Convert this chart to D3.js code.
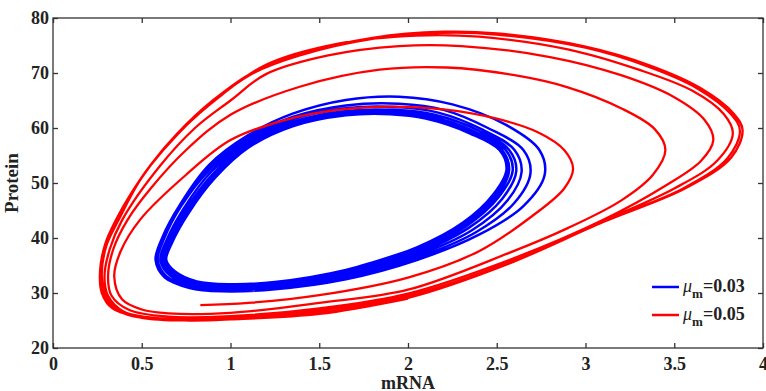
<!DOCTYPE html>
<meta charset="utf-8">
<script src="https://d3js.org/d3.v7.js"></script>
<style>
  body { margin: 0; background: #fff; }
  text { font-family: "Liberation Serif", "Times New Roman", serif; font-weight: bold; fill: #222; }
</style>
<div id="my_dataviz"></div>
<script>

// axis ticks
var xTicks = [0, 0.5, 1, 1.5, 2, 2.5, 3, 3.5, 4];
var yTicks = [20, 30, 40, 50, 60, 70, 80];

// legend entries
var seriesNames = ["0.03", "0.05"];
var seriesColors = ["#0000ff", "#ff0000"];

// mu_m = 0.03 trajectory, [mRNA, protein]
var blueTrajectory = [
  [0.95,30.4],[1.25,30.7],[1.65,32.5],[2.05,36.0],[2.4,40.6],[2.65,45.8],[2.77,51.5],[2.74,56],[2.55,60.6],[2.25,64.3],[1.95,65.7],[1.65,65.1],[1.35,62.6],[1.1,58.7],[0.88,53.3],[0.72,46.3],[0.62,40.2],[0.585,36],[0.635,32.8],[0.77,30.9],
  [0.95,30.3],[1.25,30.7],[1.65,32.7],[2.05,36.4],[2.38,41],[2.6,46.4],[2.69,51.8],[2.65,56],[2.45,60],[2.2,63.3],[1.95,64.4],[1.65,64.1],[1.35,62],[1.1,58.2],[0.88,52.9],[0.715,46],[0.615,40],[0.578,36],[0.63,32.8],[0.77,31],
  [0.96,30.5],[1.25,30.9],[1.65,33],[2.05,36.8],[2.36,41.4],[2.56,46.8],[2.64,52],[2.6,56],[2.42,59.7],[2.17,62.8],[1.93,63.8],[1.65,63.6],[1.35,61.6],[1.1,57.8],[0.885,52.5],[0.72,45.7],[0.625,39.8],[0.59,36],[0.64,33],[0.78,31.2],
  [0.97,30.7],[1.25,31.1],[1.65,33.3],[2.05,37.2],[2.34,41.8],[2.53,47.1],[2.61,52.2],[2.57,56],[2.4,59.5],[2.15,62.4],[1.92,63.3],[1.65,63.1],[1.35,61.1],[1.1,57.3],[0.89,52],[0.735,45.3],[0.64,39.6],[0.605,36],[0.655,33.3],[0.785,31.4],
  [0.98,30.9],[1.25,31.3],[1.65,33.6],[2.05,37.6],[2.33,42.2],[2.51,47.4],[2.59,52.3],[2.55,56],[2.38,59.3],[2.13,62.1],[1.91,63],[1.65,62.8],[1.35,60.8],[1.1,57],[0.9,51.6],[0.745,45],[0.65,39.4],[0.615,36],[0.665,33.5],[0.79,31.6],
  [0.99,31.1],[1.25,31.5],[1.65,33.8],[2.05,37.9],[2.32,42.5],[2.5,47.6],[2.57,52.4],[2.53,56],[2.37,59.2],[2.12,61.9],[1.9,62.8],[1.65,62.6],[1.35,60.6],[1.1,56.7],[0.905,51.3],[0.755,44.8],[0.66,39.3],[0.625,36],[0.675,33.7],[0.8,31.8],
  [1.0,31.3],[1.25,31.7],[1.65,34],[2.05,38.1],[2.31,42.7],[2.49,47.8],[2.56,52.4],[2.52,56],[2.36,59.1],[2.11,61.8],[1.9,62.6],[1.65,62.4],[1.35,60.4],[1.1,56.5],[0.91,51.1],[0.76,44.7],[0.665,39.2],[0.632,36],[0.682,33.8],[0.805,32],
  [1.0,31.5],[1.25,31.9],[1.65,34.2],[2.05,38.3],[2.31,42.8],[2.48,47.9],[2.555,52.5],[2.515,56],[2.35,59],[2.1,61.7],[1.9,62.5],[1.65,62.3],[1.35,60.3],[1.1,56.4],[0.915,51],[0.765,44.6],[0.67,39.1],[0.638,36],[0.688,33.9],[0.81,32.1],
  [1.0,31.6],[1.25,32.0],[1.65,34.2],[2.05,38.2]
];

// mu_m = 0.05 trajectory, [mRNA, protein]
var redTrajectory = [
  [0.83,27.8],[1.1,28.2],[1.5,29.6],[2.0,32.8],[2.4,37.6],[2.7,44],[2.88,49],[2.93,52.6],[2.88,56],[2.74,59.1],[2.5,61.7],[2.2,63.4],[1.9,63.9],[1.6,63.3],[1.3,61.4],[1.0,57.8],[0.75,51.5],[0.49,43.3],[0.38,37.5],[0.345,33],[0.39,28.8],
  [0.5,27],[0.65,26.3],[1.0,26.4],[1.5,28.2],[2.0,30.6],[2.57,37.3],[2.9,41.8],[3.2,46.8],[3.38,51.5],[3.45,56],[3.39,59.8],[3.2,63.6],[2.9,67.4],[2.6,69.6],[2.22,71],[1.84,70.6],[1.39,67.5],[1.0,62.4],[0.75,56],[0.55,49],[0.42,43.3],[0.34,38],[0.31,33],[0.33,29.5],[0.43,26.9],
  [0.65,25.7],[1.0,25.8],[1.5,27.2],[2.0,29.9],[2.57,36],[3.1,43.3],[3.45,49.5],[3.65,54],[3.72,57.8],[3.67,61.5],[3.5,65.6],[3.2,69.6],[2.8,72.9],[2.3,74.9],[1.95,74.9],[1.55,73.2],[1.2,69.8],[1.0,65],[0.8,60],[0.6,53],[0.39,43.3],[0.32,38],[0.29,33],[0.31,29.5],[0.4,26.6],
  [0.6,25.4],[1.0,25.5],[1.5,26.8],[2.0,29.5],[2.57,35.6],[3.1,43.1],[3.5,49],[3.74,54],[3.83,59],[3.78,62.5],[3.6,66.8],[3.3,70.6],[2.9,74.3],[2.4,76.6],[2.05,76.8],[1.6,75.3],[1.2,71.5],[0.95,66],[0.72,59.5],[0.5,51],[0.37,43.3],[0.3,38.5],[0.275,33],[0.3,29.5],[0.38,26.6],
  [0.6,25.2],[1.0,25.3],[1.5,26.4],[2.0,29.2],[2.55,35.2],[3.1,43],[3.55,49],[3.8,54.5],[3.87,59.5],[3.82,62.5],[3.63,67.2],[3.35,71.2],[3.0,74.6],[2.5,77],[2.2,77.3],[1.8,76.2],[1.39,73.2],[1.13,70],[0.9,64.8],[0.7,58.8],[0.55,53.2],[0.44,48],[0.36,43.3],[0.3,39],[0.27,34],[0.28,30],[0.34,27.3],[0.5,25.6],
  [0.77,25.1],[1.0,25.25],[1.5,26.3],[2.0,29.1],[2.55,35.1],[3.1,42.9],[3.56,49],[3.82,54.6],[3.885,59.6],[3.835,62.6],[3.645,67.3],[3.36,71.4],[3.0,74.8],[2.5,77.2],[2.2,77.5],[1.8,76.4],[1.39,73.4],[1.13,70.2],[0.9,65],[0.7,59],[0.55,53.3],[0.44,48.1],[0.355,43.3],[0.295,39],[0.265,34],[0.275,30],[0.335,27.2],[0.5,25.5],
  [0.77,25.0],[1.0,25.2],[1.5,26.2],[2.0,29.0]
];

// plot box in pixels
var margin = {top: 18, right: 3, bottom: 43, left: 53},
    width = 766 - margin.left - margin.right,
    height = 391 - margin.top - margin.bottom;

var svg = d3.select("#my_dataviz")
  .append("svg")
    .attr("width", 766)
    .attr("height", 391)
  .append("g")
    .attr("transform", "translate(" + margin.left + "," + margin.top + ")");

var x = d3.scaleLinear().domain([0, 4]).range([0, width]);
var y = d3.scaleLinear().domain([20, 80]).range([height, 0]);

var line = d3.line()
  .x(function(d) { return x(d[0]); })
  .y(function(d) { return y(d[1]); })
  .curve(d3.curveCatmullRom.alpha(0.5));

// trajectories, blue under red
svg.append("path")
  .datum(blueTrajectory)
  .attr("d", line)
  .attr("fill", "none")
  .attr("stroke", seriesColors[0])
  .attr("stroke-width", 2.5);

svg.append("path")
  .datum(redTrajectory)
  .attr("d", line)
  .attr("fill", "none")
  .attr("stroke", seriesColors[1])
  .attr("stroke-width", 2.3);

// axes: matlab style box with inward ticks
var tickLen = 5;
function styleAxis(g) {
  g.select(".domain").remove();
  g.selectAll(".tick line").attr("stroke", "#333").attr("stroke-width", 1.3);
  g.selectAll(".tick text").style("font-size", "18px");
}

svg.append("g")
  .attr("transform", "translate(0," + height + ")")
  .call(d3.axisBottom(x).tickValues(xTicks).tickSize(-tickLen).tickPadding(9)
        .tickFormat(function(d) { return d; }))
  .call(styleAxis);

svg.append("g")
  .call(d3.axisTop(x).tickValues(xTicks).tickSize(-tickLen).tickFormat(""))
  .call(styleAxis);

svg.append("g")
  .call(d3.axisLeft(y).tickValues(yTicks).tickSize(-tickLen).tickPadding(4))
  .call(styleAxis);

svg.append("g")
  .attr("transform", "translate(" + width + ",0)")
  .call(d3.axisRight(y).tickValues(yTicks).tickSize(-tickLen).tickFormat(""))
  .call(styleAxis);

svg.append("rect")
  .attr("width", width)
  .attr("height", height)
  .attr("fill", "none")
  .attr("stroke", "#333")
  .attr("stroke-width", 1.3);

// axis titles
svg.append("text")
  .attr("x", width / 2)
  .attr("y", height + 41)
  .attr("text-anchor", "middle")
  .style("font-size", "18px")
  .text("mRNA");

svg.append("text")
  .attr("transform", "translate(" + (-35) + "," + (height / 2) + ") rotate(-90)")
  .attr("text-anchor", "middle")
  .style("font-size", "19px")
  .text("Protein");

// legend
var legend = svg.append("g")
  .attr("transform", "translate(" + (652 - margin.left) + "," + (287 - margin.top) + ")");

seriesNames.forEach(function(name, i) {
  var row = legend.append("g").attr("transform", "translate(0," + (i * 28) + ")");
  row.append("line")
    .attr("x1", 0).attr("x2", 27)
    .attr("y1", 0).attr("y2", 0)
    .attr("stroke", seriesColors[i])
    .attr("stroke-width", 2.5);
  var t = row.append("text")
    .attr("x", 31)
    .attr("y", 5)
    .style("font-size", "18px");
  t.append("tspan").style("font-style", "italic").style("font-weight", "normal").text("\u03bc");
  t.append("tspan").attr("dy", 6).style("font-size", "13px").text("m");
  t.append("tspan").attr("dy", -6).text("=" + name);
});

</script>
